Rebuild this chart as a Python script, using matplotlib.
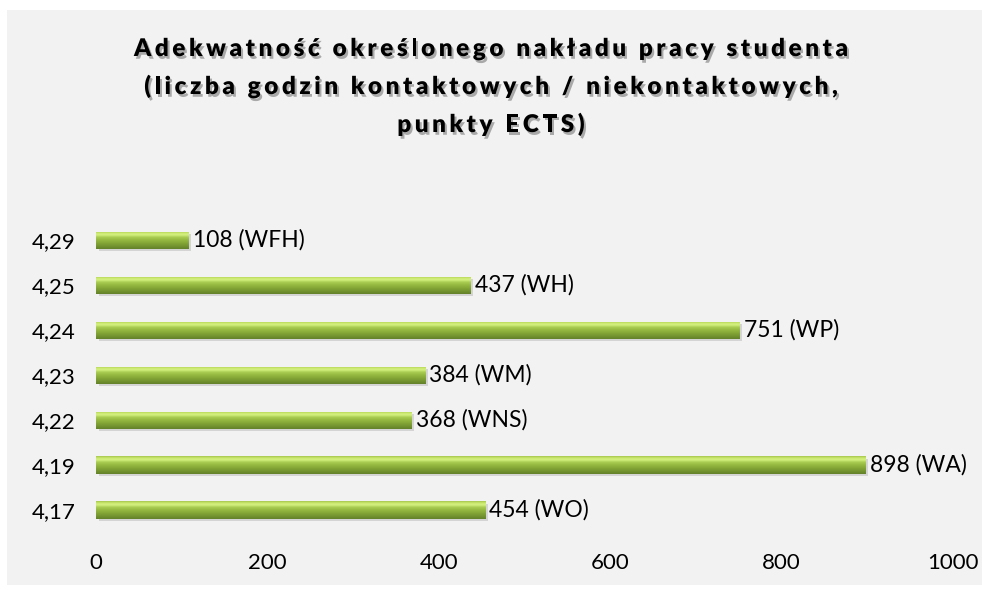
import numpy as np
import matplotlib.pyplot as plt
import matplotlib.patheffects as pe
from matplotlib.colors import LinearSegmentedColormap
from matplotlib.font_manager import FontProperties

# Dane (od dołu do góry)
kategorie = ['4,17', '4,19', '4,22', '4,23', '4,24', '4,25', '4,29']
wartosci = [454, 898, 368, 384, 751, 437, 108]
wydzialy = ['WO', 'WA', 'WNS', 'WM', 'WP', 'WH', 'WFH']
tytul = ['Adekwatność określonego nakładu pracy studenta',
         '(liczba godzin kontaktowych / niekontaktowych,',
         'punkty ECTS)']

plt.rcParams['font.family'] = ['Lato', 'DejaVu Sans']

W, H = 982, 590
fig = plt.figure(figsize=(W / 100, H / 100), dpi=100)
fig.patch.set_facecolor('white')
# szare tło wykresu
fig.patches.append(plt.Rectangle((7 / W, 5 / H), 1, 1 - 15 / H,
                                 transform=fig.transFigure, facecolor='#f2f2f2',
                                 edgecolor='none', zorder=-10))

ax = fig.add_axes([0.0978, 0.0975, 0.8727, 0.5335])
ax.set_facecolor('none')

y = np.arange(len(kategorie))
bars = ax.barh(y, wartosci, height=0.38, color='#8fb33c', edgecolor='none', zorder=2)

# gradient "bevel" na słupkach
cmap = LinearSegmentedColormap.from_list('ziel', [
    (0.0, '#62802a'), (0.12, '#6f8f2e'), (0.45, '#8fb33c'),
    (0.66, '#a8cb50'), (0.8, '#d6f283'), (0.9, '#cbe86e'), (1.0, '#a3c44b')])
grad = np.linspace(0, 1, 64).reshape(-1, 1)
for b in bars:
    x0, y0 = b.get_x(), b.get_y()
    w, h = b.get_width(), b.get_height()
    # cień
    ax.barh(y0 + h / 2 - 0.05, w, height=h, left=x0 + 3, color='#000000',
            alpha=0.12, edgecolor='none', zorder=1)
    im = ax.imshow(grad, cmap=cmap, aspect='auto', origin='lower',
                   extent=(x0, x0 + w, y0, y0 + h), zorder=3, interpolation='bicubic')
    im.set_clip_path(b)

for yi, v, wyd in zip(y, wartosci, wydzialy):
    ax.text(v + 5, yi, f'{v} ({wyd})', va='center', ha='left', fontsize=16.5,
            color='#000000', zorder=4)

ax.set_xlim(0, 1000)
ax.set_ylim(-0.5, len(kategorie) - 0.5)
ax.set_yticks(y)
ax.set_yticklabels(kategorie, fontsize=16)
ax.set_xticks([0, 200, 400, 600, 800, 1000])
ax.tick_params(axis='both', length=0, labelsize=16, colors='#000000')
ax.tick_params(axis='x', pad=15)
ax.tick_params(axis='y', pad=15)
for s in ax.spines.values():
    s.set_visible(False)

# tytuł z rozstrzelonymi literami i cieniem
renderer = fig.canvas.get_renderer()
fp = FontProperties(family=['Lato', 'DejaVu Sans'], weight='heavy', size=17.5)


def szer(s):
    return renderer.get_text_width_height_descent(s, fp, ismath=False)[0]


def zaawans(linia):
    return [szer('x' + c + 'x') - szer('xx') for c in linia]


# rozstaw liter tak, aby pierwsza linia miała ok. 714 px
a0 = zaawans(tytul[0])
odstep = (714 - sum(a0)) / (len(tytul[0]) - 1)
cien = [pe.withSimplePatchShadow(offset=(1.5, -2), shadow_rgbFace='black', alpha=0.3)]
baza = [56, 94, 132]
for linia, yb in zip(tytul, baza):
    adv = zaawans(linia)
    total = sum(adv) + odstep * (len(linia) - 1)
    x = W / 2 - total / 2
    for c, a in zip(linia, adv):
        if c != ' ':
            fig.text(x / W, 1 - yb / H, c, ha='left', va='baseline',
                     fontproperties=fp, color='#000000', path_effects=cien)
        x += a + odstep

fig.savefig('out.png', dpi=100)
